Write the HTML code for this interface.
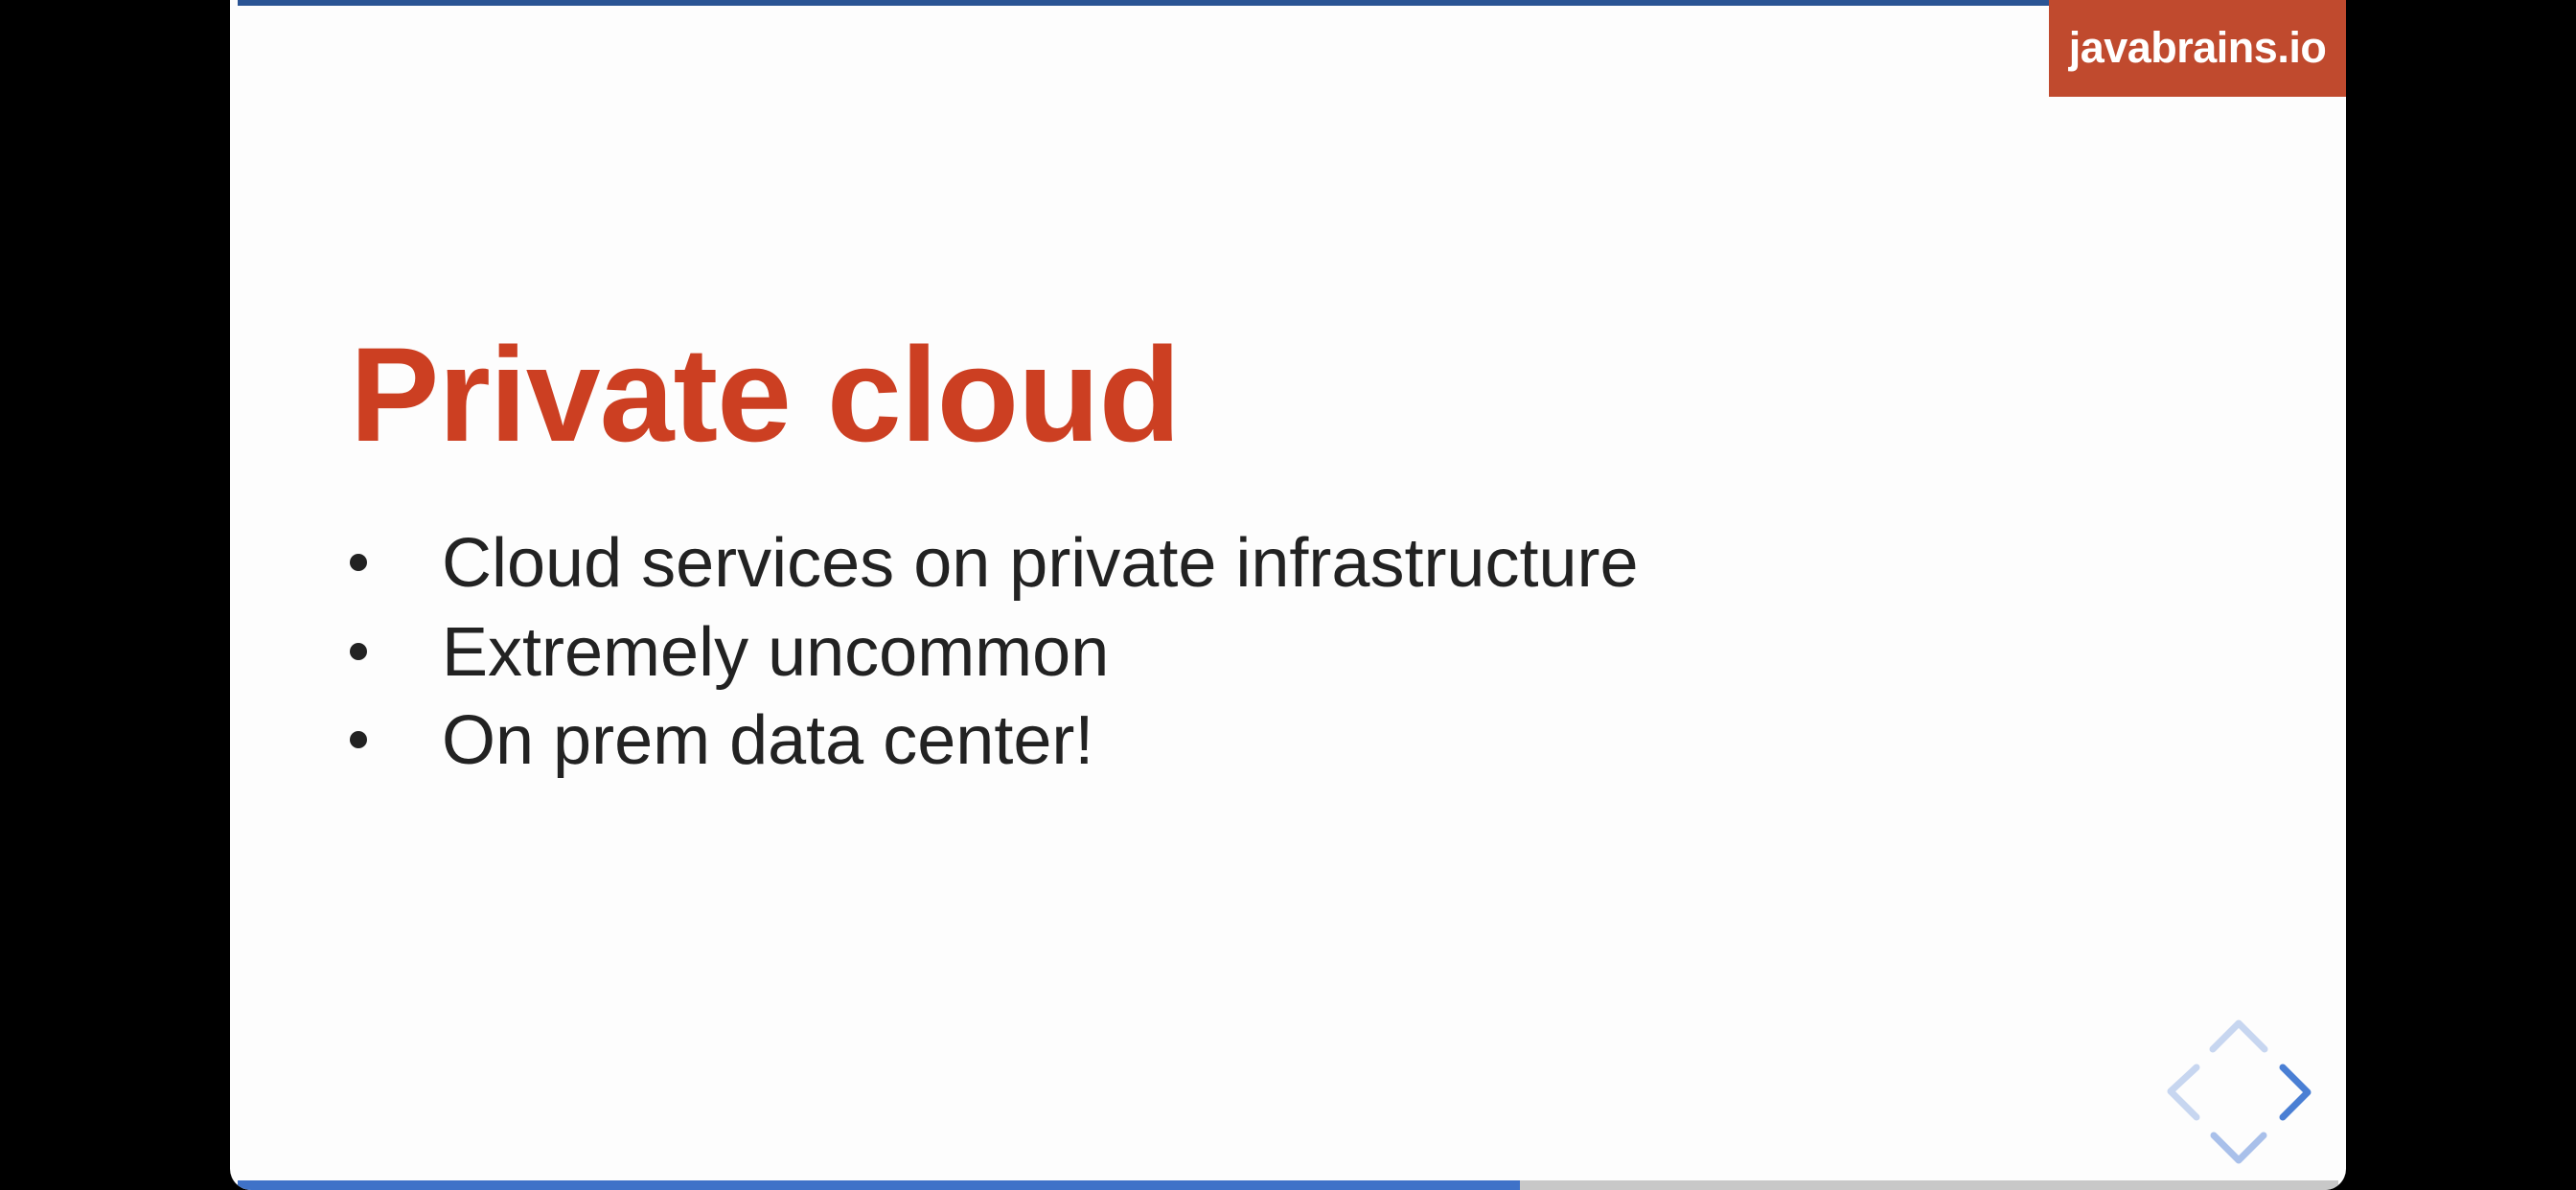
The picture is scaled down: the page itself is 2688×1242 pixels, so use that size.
<!DOCTYPE html>
<html><head><meta charset="utf-8"><style>
html,body{margin:0;padding:0;background:#000;width:2688px;height:1242px;overflow:hidden}
.slide{position:absolute;left:240px;top:0;width:2208px;height:1242px;background:#fdfdfd;border-radius:0 0 22px 22px;overflow:hidden}
.topbar{position:absolute;left:8px;top:0;width:1890px;height:6px;background:#2a5494}
.logo{position:absolute;left:1898px;top:0;width:310px;height:101px;background:#c04a2e;color:#fff;font:bold 45px "Liberation Sans",sans-serif;text-align:center;line-height:100px;letter-spacing:-0.5px}
.title{position:absolute;left:125px;top:332px;font:bold 140px "Liberation Sans",sans-serif;color:#cc3f22;letter-spacing:-1px;line-height:160px;white-space:nowrap}
.b{position:absolute;left:221px;font:72px "Liberation Sans",sans-serif;color:#222;white-space:nowrap;line-height:80px}
.dot{position:absolute;left:125px;width:18px;height:18px;border-radius:50%;background:#222}
.prog{position:absolute;left:8px;top:1232px;width:2192px;height:10px;background:#c8c8c8}
.prog div{width:1338px;height:100%;background:#3f72c8}
</style></head><body>
<div class="slide">
<div class="topbar"></div>
<div class="logo">javabrains.io</div>
<div class="title">Private cloud</div>
<div class="dot" style="top:578px"></div><div class="b" style="top:548px">Cloud services on private infrastructure</div>
<div class="dot" style="top:671px"></div><div class="b" style="top:641px">Extremely uncommon</div>
<div class="dot" style="top:763px"></div><div class="b" style="top:733px">On prem data center!</div>
<div class="prog"><div></div></div>
</div>
<svg style="position:absolute;left:0;top:0" width="2688" height="1242">
<g fill="none" stroke-width="7" stroke-linecap="round" stroke-linejoin="round">
<polyline points="2309,1095 2336,1068 2363,1095" stroke="#c7d6f0"/>
<polyline points="2292,1114 2265,1139 2292,1166" stroke="#c7d6f0"/>
<polyline points="2310,1185 2336,1211 2362,1185" stroke="#a9c0ea"/>
<polyline points="2382,1114 2408,1140 2382,1166" stroke="#4a7fd4"/>
</g></svg>
</body></html>
